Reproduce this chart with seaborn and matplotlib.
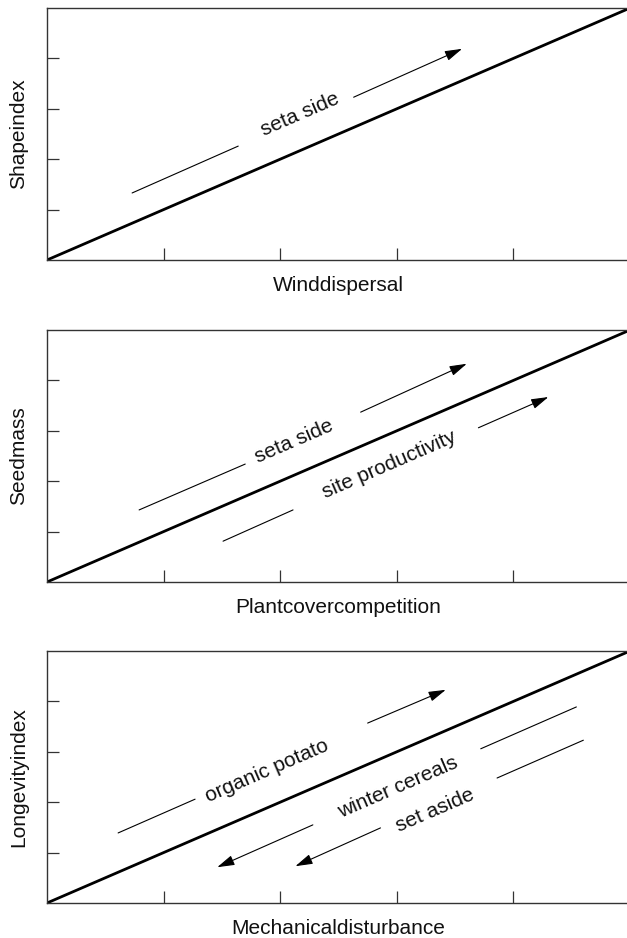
import matplotlib
matplotlib.use("Agg")
import matplotlib.pyplot as plt
import seaborn as sns
import pandas as pd

sns.set_style("ticks")
plt.rcParams['font.family'] = ['Liberation Sans', 'DejaVu Sans']

# ---- data ----
x_labels = ["Winddispersal", "Plantcovercompetition", "Mechanicaldisturbance"]
y_labels = ["Shapeindex", "Seedmass", "Longevityindex"]
diag_x = [0, 5]
diag_y = [0, 5]
tick_vals = [1, 2, 3, 4]

# annotations per panel: (label, text_xy, tail_line, arrow)
panel1_texts = [("seta side", (2.17, 2.88))]
panel1_lines = [((0.73, 1.33), (1.64, 2.26))]
panel1_arrows = [((2.63, 3.23), (3.56, 4.19))]

panel2_texts = [("seta side", (2.12, 2.80)), ("site productivity", (2.94, 2.32))]
panel2_lines = [((0.79, 1.43), (1.70, 2.34)), ((1.51, 0.81), (2.11, 1.43))]
panel2_arrows = [((2.69, 3.37), (3.60, 4.33)), ((3.70, 3.06), (4.30, 3.67))]

panel3_texts = [("organic potato", (1.89, 2.62)), ("winter cereals", (3.01, 2.30)),
                ("set aside", (3.33, 1.83))]
panel3_lines = [((0.61, 1.39), (1.27, 2.06)), ((3.72, 3.06), (4.54, 3.89)),
                ((3.86, 2.48), (4.60, 3.23))]
panel3_arrows = [((2.75, 3.57), (3.42, 4.23)), ((2.28, 1.55), (1.46, 0.71)),
                 ((2.86, 1.49), (2.13, 0.73))]

panels = [
    (panel1_texts, panel1_lines, panel1_arrows),
    (panel2_texts, panel2_lines, panel2_arrows),
    (panel3_texts, panel3_lines, panel3_arrows),
]

W, H = 627, 938
fig = plt.figure(figsize=(W / 100, H / 100), dpi=100)

tops = [8, 330, 651]
ax_h = 252
left_px = 47
ax_w = 583

diag_df = pd.DataFrame({"x": diag_x, "y": diag_y})
spine_col = "#333333"
FS = 15

for i, (texts, lines, arrows) in enumerate(panels):
    top = tops[i]
    ax = fig.add_axes([left_px / W, 1 - (top + ax_h) / H, ax_w / W, ax_h / H])
    sns.lineplot(data=diag_df, x="x", y="y", ax=ax, color="black", lw=2.0)
    ax.set_xlim(0, 5)
    ax.set_ylim(0, 5)
    ax.set_xticks(tick_vals)
    ax.set_yticks(tick_vals)
    ax.set_xticklabels([])
    ax.set_yticklabels([])
    ax.tick_params(direction="in", length=8.5, width=0.9, color=spine_col)
    for s in ax.spines.values():
        s.set_linewidth(1.0)
        s.set_color(spine_col)
    ax.set_xlabel(x_labels[i], fontsize=FS, labelpad=8, color="#111111")
    ax.set_ylabel(y_labels[i], fontsize=FS, labelpad=10, color="#111111")

    for label, (tx, ty) in texts:
        ax.text(tx, ty, label, fontsize=FS, rotation=23.4, rotation_mode="anchor",
                ha="center", va="center", color="#111111")
    for (x1, y1), (x2, y2) in lines:
        ax.plot([x1, x2], [y1, y2], color="black", lw=0.8)
    for (x1, y1), (x2, y2) in arrows:
        ax.annotate("", xy=(x2, y2), xytext=(x1, y1),
                    arrowprops=dict(arrowstyle="-|>,head_length=0.75,head_width=0.22",
                                    color="black", lw=0.8, mutation_scale=14,
                                    shrinkA=0, shrinkB=0))

fig.savefig("out.png", dpi=100)
